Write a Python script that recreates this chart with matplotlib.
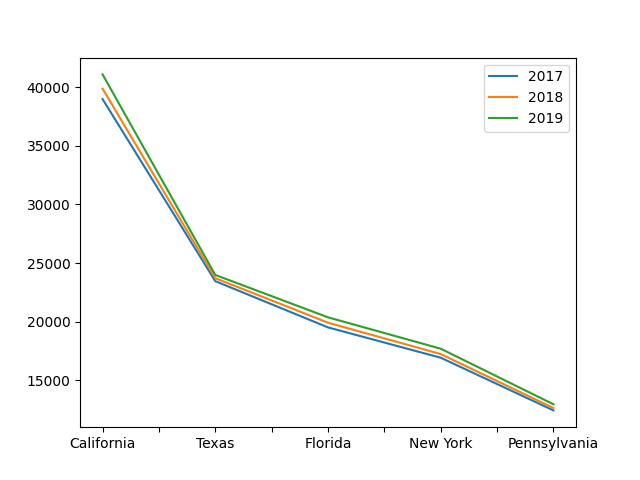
import pandas as pd
import matplotlib
matplotlib.use("Agg")
import matplotlib.pyplot as plt

states = ["California", "Texas", "Florida", "New York", "Pennsylvania"]
pop_2017 = [39000, 23450, 19500, 16910, 12410]
pop_2018 = [39890, 23700, 19900, 17220, 12610]
pop_2019 = [41110, 23980, 20360, 17680, 12930]

df = pd.DataFrame({"2017": pop_2017, "2018": pop_2018, "2019": pop_2019}, index=states)

ax = df.plot()
plt.savefig("out.png")
